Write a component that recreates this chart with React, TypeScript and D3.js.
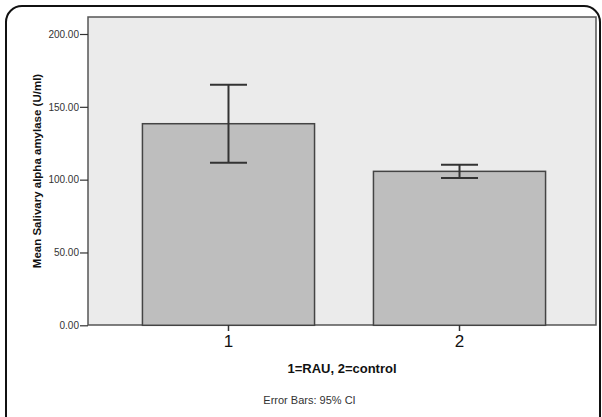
import React, { useEffect, useRef } from 'react';
import * as d3 from 'd3';

const groups = ['1', '2'];
const means = [138.4, 105.7];
const ciLow = [111.6, 101.1];
const ciHigh = [165.2, 110.3];
const yTicks = [0, 50, 100, 150, 200];

const App = () => {
  const ref = useRef<SVGSVGElement>(null);

  useEffect(() => {
    if (!ref.current) return;
    const svg = d3.select(ref.current);
    svg.selectAll('*').remove();

    const width = 602;
    const height = 417;
    const plot = { left: 88, top: 17, right: 596, bottom: 325 };
    const font = 'Liberation Sans, Arial, sans-serif';

    // outer rounded frame
    svg.append('rect')
      .attr('x', 6).attr('y', 6)
      .attr('width', 594).attr('height', 430)
      .attr('rx', 16)
      .attr('fill', 'white')
      .attr('stroke', '#111')
      .attr('stroke-width', 2);

    // bars sit a little right of centre in the original
    const x = d3.scaleBand()
      .domain(groups)
      .range([plot.left + 2, plot.right + 2])
      .paddingInner(0.255)
      .paddingOuter(0.227);

    const y = d3.scaleLinear()
      .domain([0, 200])
      .range([325.3, 34]);

    svg.append('rect')
      .attr('x', plot.left).attr('y', plot.top)
      .attr('width', plot.right - plot.left).attr('height', plot.bottom - plot.top)
      .attr('fill', '#ebebeb')
      .attr('stroke', '#555')
      .attr('stroke-width', 1.5);

    const data = groups.map((g, i) => ({ g, mean: means[i], lo: ciLow[i], hi: ciHigh[i] }));

    svg.append('g')
      .selectAll('rect')
      .data(data)
      .join('rect')
      .attr('x', d => x(d.g)!)
      .attr('y', d => y(d.mean))
      .attr('width', x.bandwidth())
      .attr('height', d => y(0) - y(d.mean))
      .attr('fill', '#bebebe')
      .attr('stroke', '#444')
      .attr('stroke-width', 1.5);

    const cx = (d: { g: string }) => x(d.g)! + x.bandwidth() / 2;
    const capHalf = 18.5;
    const eb = svg.append('g').attr('stroke', '#333').attr('stroke-width', 2);
    eb.selectAll('line.v')
      .data(data)
      .join('line')
      .attr('class', 'v')
      .attr('x1', cx).attr('x2', cx)
      .attr('y1', d => y(d.lo)).attr('y2', d => y(d.hi));
    eb.selectAll('line.top')
      .data(data)
      .join('line')
      .attr('class', 'top')
      .attr('x1', d => cx(d) - capHalf).attr('x2', d => cx(d) + capHalf)
      .attr('y1', d => y(d.hi)).attr('y2', d => y(d.hi));
    eb.selectAll('line.bot')
      .data(data)
      .join('line')
      .attr('class', 'bot')
      .attr('x1', d => cx(d) - capHalf).attr('x2', d => cx(d) + capHalf)
      .attr('y1', d => y(d.lo)).attr('y2', d => y(d.lo));

    // y axis
    const yAxis = svg.append('g')
      .attr('transform', `translate(${plot.left},0)`)
      .call(d3.axisLeft(y).tickValues(yTicks).tickFormat(d3.format('.2f')).tickSize(8).tickPadding(1));
    yAxis.select('.domain').remove();
    yAxis.selectAll('line').attr('stroke', '#333').attr('stroke-width', 1.2);
    yAxis.selectAll('text')
      .attr('fill', '#333')
      .attr('font-family', font)
      .attr('font-size', 10);

    // x axis
    const xAxis = svg.append('g')
      .attr('transform', `translate(0,${plot.bottom})`)
      .call(d3.axisBottom(x).tickSize(6).tickPadding(4));
    xAxis.select('.domain').remove();
    xAxis.selectAll('line').attr('stroke', '#333').attr('stroke-width', 1.5);
    xAxis.selectAll('text')
      .attr('fill', '#111')
      .attr('font-family', font)
      .attr('font-size', 17);

    svg.append('text')
      .attr('x', (plot.left + plot.right) / 2)
      .attr('y', 373)
      .attr('text-anchor', 'middle')
      .attr('font-family', font)
      .attr('font-weight', 'bold')
      .attr('font-size', 13)
      .attr('fill', '#111')
      .text('1=RAU, 2=control');

    svg.append('text')
      .attr('transform', `translate(41,${(plot.top + plot.bottom) / 2}) rotate(-90)`)
      .attr('text-anchor', 'middle')
      .attr('font-family', font)
      .attr('font-weight', 'bold')
      .attr('font-size', 11.5)
      .attr('fill', '#111')
      .text('Mean Salivary alpha amylase (U/ml)');

    svg.append('text')
      .attr('x', 309.5)
      .attr('y', 404)
      .attr('text-anchor', 'middle')
      .attr('font-family', font)
      .attr('font-size', 11)
      .attr('fill', '#333')
      .text('Error Bars: 95% CI');

    svg.attr('width', width).attr('height', height);
  }, []);

  return (
    <svg
      ref={ref}
      width={602}
      height={417}
      style={{ position: 'absolute', left: 0, top: 0, display: 'block' }}
    />
  );
};

export default App;
